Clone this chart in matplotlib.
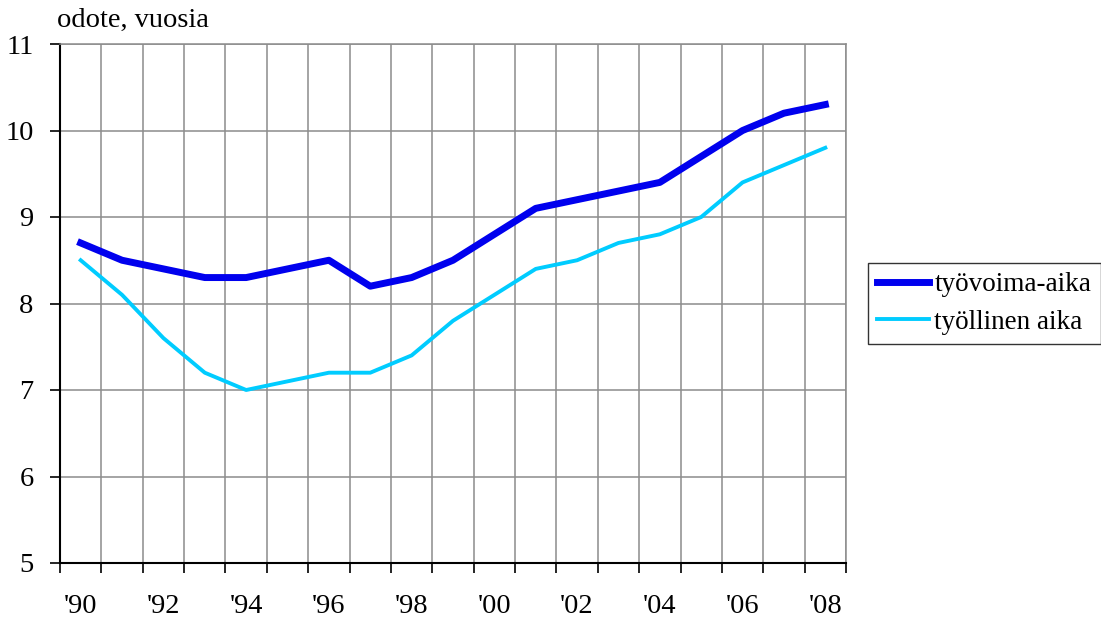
import matplotlib
matplotlib.use('Agg')
import matplotlib.pyplot as plt
import numpy as np

# data
years = ["'90", "'91", "'92", "'93", "'94", "'95", "'96", "'97", "'98", "'99",
         "'00", "'01", "'02", "'03", "'04", "'05", "'06", "'07", "'08"]
tyovoima = [8.7, 8.5, 8.4, 8.3, 8.3, 8.4, 8.5, 8.2, 8.3, 8.5,
            8.8, 9.1, 9.2, 9.3, 9.4, 9.7, 10.0, 10.2, 10.3]
tyollinen = [8.5, 8.1, 7.6, 7.2, 7.0, 7.1, 7.2, 7.2, 7.4, 7.8,
             8.1, 8.4, 8.5, 8.7, 8.8, 9.0, 9.4, 9.6, 9.8]

plt.rcParams['font.family'] = ['Liberation Serif', 'DejaVu Serif']

fig = plt.figure(figsize=(11.01, 6.26), dpi=100)
ax = fig.add_axes([60/1101, 1-563/626, (846-60)/1101, (563-44)/626])

x = np.arange(len(years))
ax.plot(x, tyovoima, color='#0000EE', lw=5.0, label='työvoima-aika')
ax.plot(x, tyollinen, color='#00CCFF', lw=2.8, label='työllinen aika')

# axes limits and grid
ax.set_xlim(-0.5, len(years) - 0.5)
ax.set_ylim(5, 11)
ax.set_yticks(range(5, 12))
ax.set_xticks(x[::2])
ax.set_xticklabels(years[::2])
ax.set_xticks(np.arange(-0.5, len(years)), minor=True)
ax.grid(True, which='major', axis='y', color='#8c8c8c', lw=1.1)
ax.grid(True, which='minor', axis='x', color='#8c8c8c', lw=1.1)
ax.set_axisbelow(True)

ax.tick_params(axis='x', which='major', length=0, pad=22, labelsize=20.5)
ax.tick_params(axis='x', which='minor', length=7, width=1.2, direction='out', color='black')
ax.tick_params(axis='y', length=7, width=1.2, direction='out', pad=12, labelsize=20.5)

for s in ['top', 'right']:
    ax.spines[s].set_color('#8c8c8c')
    ax.spines[s].set_linewidth(1.1)
for s in ['left', 'bottom']:
    ax.spines[s].set_color('black')
    ax.spines[s].set_linewidth(1.5)

fig.text(57/1101, 1-20/626, 'odote, vuosia', fontsize=20.5, ha='left', va='center')

leg = fig.legend(loc='upper left', bbox_to_anchor=(868/1101, 1-263/626), fontsize=19.5,
                 frameon=True, fancybox=False, edgecolor='black', borderaxespad=0,
                 handlelength=1.9, handletextpad=0.2, borderpad=0.35, labelspacing=0.45)
leg.get_frame().set_linewidth(1.0)

fig.savefig('out.png', dpi=100)
